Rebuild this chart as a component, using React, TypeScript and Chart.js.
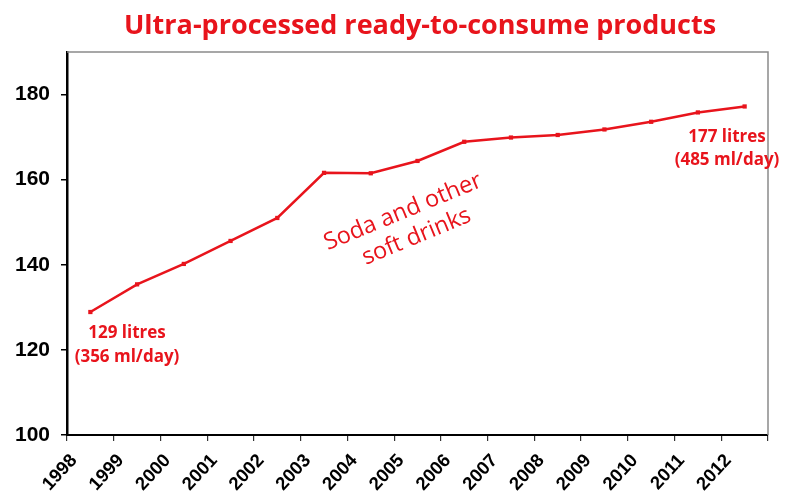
import React, { useEffect, useRef } from "react";
import { Chart, registerables } from "chart.js";

Chart.register(...registerables);

const TITLE = "Ultra-processed ready-to-consume products";
const years = [1998, 1999, 2000, 2001, 2002, 2003, 2004, 2005, 2006, 2007, 2008, 2009, 2010, 2011, 2012];
const litresPerPerson = [128.9, 135.4, 140.2, 145.6, 151.0, 161.6, 161.5, 164.4, 168.9, 169.9, 170.5, 171.8, 173.6, 175.8, 177.2];
const yTicks = { min: 100, max: 190, step: 20 };
const xRange = { min: 1998, max: 2013 };
const startNote = ["129 litres", "(356 ml/day)"];
const endNote = ["177 litres", "(485 ml/day)"];
const seriesNote = ["Soda and other", "soft drinks"];

const RED = "#e8141c";

const decorPlugin = {
  id: "decor",
  beforeDatasetsDraw(chart: any) {
    const { ctx, chartArea } = chart;
    ctx.save();
    ctx.strokeStyle = "#8a8a8a";
    ctx.lineWidth = 1.5;
    ctx.beginPath();
    ctx.moveTo(chartArea.left, chartArea.top);
    ctx.lineTo(chartArea.right, chartArea.top);
    ctx.lineTo(chartArea.right, chartArea.bottom);
    ctx.stroke();
    ctx.restore();
  },
  afterDraw(chart: any) {
    const { ctx } = chart;
    ctx.save();
    // Title
    ctx.fillStyle = RED;
    ctx.textAlign = "center";
    ctx.textBaseline = "alphabetic";
    ctx.font = "bold 27px 'Open Sans'";
    ctx.fillText(TITLE, 420, 34);

    // Start / end notes
    ctx.font = "bold 17px 'Open Sans'";
    ctx.textBaseline = "middle";
    ctx.fillText(startNote[0], 127, 333);
    ctx.fillText(startNote[1], 127, 357);
    ctx.fillText(endNote[0], 727, 137);
    ctx.fillText(endNote[1], 727, 160);

    // Series label, rotated
    ctx.font = "23.5px 'Open Sans'";
    ctx.translate(403, 212);
    ctx.rotate((-22.5 * Math.PI) / 180);
    ctx.fillText(seriesNote[0], 0, 0);
    ctx.fillText(seriesNote[1], 3, 28);
    ctx.restore();
  },
};

export default function App() {
  const ref = useRef<HTMLCanvasElement>(null);

  useEffect(() => {
    if (!ref.current) return;
    const chart = new Chart(ref.current, {
      type: "line",
      data: {
        datasets: [
          {
            data: years.map((y, i) => ({ x: y + 0.5, y: litresPerPerson[i] })),
            borderColor: RED,
            backgroundColor: RED,
            borderWidth: 2.5,
            pointStyle: "rect",
            pointRadius: 3,
            pointBorderWidth: 0,
            tension: 0,
          },
        ],
      },
      options: {
        responsive: false,
        animation: false,
        layout: { padding: { top: 52, right: 17, left: 0, bottom: 0 } },
        plugins: {
          legend: { display: false },
          tooltip: { enabled: false },
          title: { display: false },
        },
        scales: {
          x: {
            type: "linear",
            min: xRange.min,
            max: xRange.max,
            afterFit: (s: any) => {
              s.height = 56;
              s.paddingLeft = 0;
              s.paddingRight = 0;
            },
            grid: {
              drawOnChartArea: false,
              drawTicks: true,
              tickLength: 6,
              color: "#333",
              lineWidth: 1.2,
            },
            border: { color: "#000", width: 2 },
            ticks: {
              stepSize: 1,
              autoSkip: false,
              maxRotation: 47,
              minRotation: 47,
              padding: 9,
              labelOffset: 7,
              color: "#000",
              font: { family: "'Liberation Sans'", size: 18.5, weight: "bold" },
              callback: (v: any) => (v >= xRange.max ? "" : String(v)),
            },
          },
          y: {
            min: yTicks.min,
            max: yTicks.max,
            afterFit: (s: any) => {
              s.width = 67;
              s.paddingTop = 0;
              s.paddingBottom = 0;
            },
            grid: {
              drawOnChartArea: false,
              drawTicks: true,
              tickLength: 6,
              color: "#000",
              lineWidth: 1.5,
            },
            border: { color: "#000", width: 2.5 },
            ticks: {
              stepSize: yTicks.step,
              includeBounds: false,
              padding: 11,
              color: "#000",
              font: { family: "'Liberation Sans'", size: 21, weight: "bold" },
            },
          },
        },
      },
      plugins: [decorPlugin],
    });
    return () => chart.destroy();
  }, []);

  return (
    <div style={{ position: "fixed", left: 0, top: 0, width: 785, height: 491, background: "#fff" }}>
      <canvas ref={ref} width={785} height={491} />
    </div>
  );
}
